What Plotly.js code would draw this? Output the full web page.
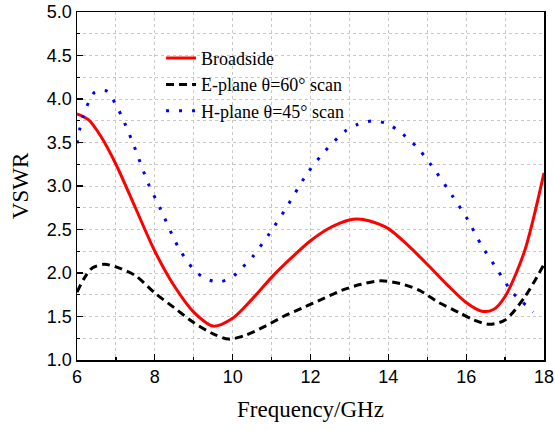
<!DOCTYPE html>
<html><head><meta charset="utf-8">
<script src="https://cdn.plot.ly/plotly-3.0.1.min.js"></script>
<style>html,body{margin:0;padding:0;background:#fff;}#chart{width:555px;height:430px;}</style>
</head><body><div id="chart"></div>
<script>
var freqBroad = [6, 6.3, 6.6, 7.0, 7.5, 8.0, 8.5, 9.0, 9.5, 10.0, 10.5, 11.0, 11.5, 12.0, 12.5, 13.0, 13.2, 13.5, 14.0, 14.5, 15.0, 15.5, 16.0, 16.4, 16.7, 17.0, 17.5, 18.0];
var vswrBroad = [3.83, 3.76, 3.58, 3.25, 2.75, 2.25, 1.85, 1.55, 1.39, 1.48, 1.70, 1.95, 2.17, 2.37, 2.52, 2.61, 2.62, 2.60, 2.51, 2.32, 2.10, 1.87, 1.66, 1.56, 1.58, 1.73, 2.25, 3.15];

var freqE = [6, 6.2, 6.4, 6.7, 7.0, 7.5, 8.0, 8.5, 9.0, 9.5, 9.9, 10.3, 10.8, 11.3, 11.8, 12.3, 12.8, 13.3, 13.8, 14.3, 14.8, 15.3, 15.8, 16.2, 16.6, 17.0, 17.5, 18.0];
var vswrE = [1.78, 1.95, 2.06, 2.10, 2.07, 1.97, 1.77, 1.60, 1.43, 1.30, 1.24, 1.28, 1.38, 1.50, 1.60, 1.70, 1.80, 1.87, 1.91, 1.88, 1.80, 1.66, 1.55, 1.46, 1.41, 1.46, 1.72, 2.10];

var freqH = [6, 6.15, 6.46, 6.77, 6.98, 7.16, 7.44, 7.83, 8.13, 8.6, 8.98, 9.32, 9.68, 9.98, 10.24, 10.5, 10.94, 11.35, 11.91, 12.35, 12.89, 13.22, 13.61, 13.94, 14.25, 14.77, 15.23, 15.64, 16.03, 16.39, 16.77, 17.18, 17.44, 17.72];
var vswrH = [3.49, 3.79, 4.08, 4.09, 3.95, 3.79, 3.49, 3.03, 2.75, 2.30, 2.05, 1.93, 1.90, 1.95, 2.06, 2.18, 2.45, 2.73, 3.14, 3.39, 3.63, 3.71, 3.75, 3.72, 3.64, 3.43, 3.16, 2.89, 2.62, 2.32, 2.06, 1.78, 1.67, 1.55];

var names = ['Broadside', 'E-plane \u03b8=60\u00b0 scan', 'H-plane \u03b8=45\u00b0 scan'];
var xTicks = [6, 8, 10, 12, 14, 16, 18];
var yTicks = [1.0, 1.5, 2.0, 2.5, 3.0, 3.5, 4.0, 4.5, 5.0];

var traces = [
  {x: freqBroad, y: vswrBroad, name: names[0], mode: 'lines',
   line: {color: '#ff0000', width: 3, shape: 'spline', smoothing: 0.8}},
  {x: freqE, y: vswrE, name: names[1], mode: 'lines',
   line: {color: '#000000', width: 3, dash: '8px,5px', shape: 'spline', smoothing: 0.8}},
  {x: freqH, y: vswrH, name: names[2], mode: 'lines',
   line: {color: '#0000ff', width: 3, dash: '3px,10px', shape: 'spline', smoothing: 0.8}}
];

var gridCol = '#c8c8c8';
var layout = {
  width: 555, height: 430,
  margin: {l: 77, r: 11, t: 12, b: 70},
  paper_bgcolor: '#ffffff', plot_bgcolor: '#ffffff',
  showlegend: true,
  legend: {x: 0.18, y: 0.92, xanchor: 'left', yanchor: 'top',
    bgcolor: 'rgba(0,0,0,0)', borderwidth: 0,
    font: {family: 'Liberation Serif, Times New Roman, serif', size: 18, color: '#000'}},
  xaxis: {
    range: [6, 18], tickmode: 'array', tickvals: xTicks, ticktext: xTicks.map(String),
    ticks: 'inside', ticklen: 6, tickwidth: 1.2, tickcolor: '#000',
    showline: true, linecolor: '#000', linewidth: 1.5, mirror: true,
    showgrid: true, gridcolor: gridCol, griddash: 'dot', gridwidth: 1,
    zeroline: false,
    minor: {dtick: 1, ticks: 'inside', ticklen: 3, tickcolor: '#000', showgrid: true, gridcolor: gridCol, griddash: 'dot', gridwidth: 1},
    tickfont: {family: 'Liberation Sans, Arial, sans-serif', size: 18, color: '#000'},
    title: {text: 'Frequency/GHz', standoff: 15,
      font: {family: 'Liberation Serif, Times New Roman, serif', size: 23, color: '#000'}}
  },
  yaxis: {
    range: [1, 5], tickmode: 'array', tickvals: yTicks, ticktext: yTicks.map(function(v){return v.toFixed(1);}),
    ticks: 'inside', ticklen: 6, tickwidth: 1.2, tickcolor: '#000',
    showline: true, linecolor: '#000', linewidth: 1.5, mirror: true,
    showgrid: true, gridcolor: gridCol, griddash: 'dot', gridwidth: 1,
    zeroline: false,
    minor: {dtick: 0.25, ticks: 'inside', ticklen: 3, tickcolor: '#000', showgrid: true, gridcolor: gridCol, griddash: 'dot', gridwidth: 1},
    tickfont: {family: 'Liberation Sans, Arial, sans-serif', size: 18, color: '#000'},
    title: {text: 'VSWR', standoff: 12,
      font: {family: 'Liberation Serif, Times New Roman, serif', size: 23, color: '#000'}}
  }
};

Plotly.newPlot('chart', traces, layout, {displayModeBar: false, staticPlot: true});
</script>
</body></html>
